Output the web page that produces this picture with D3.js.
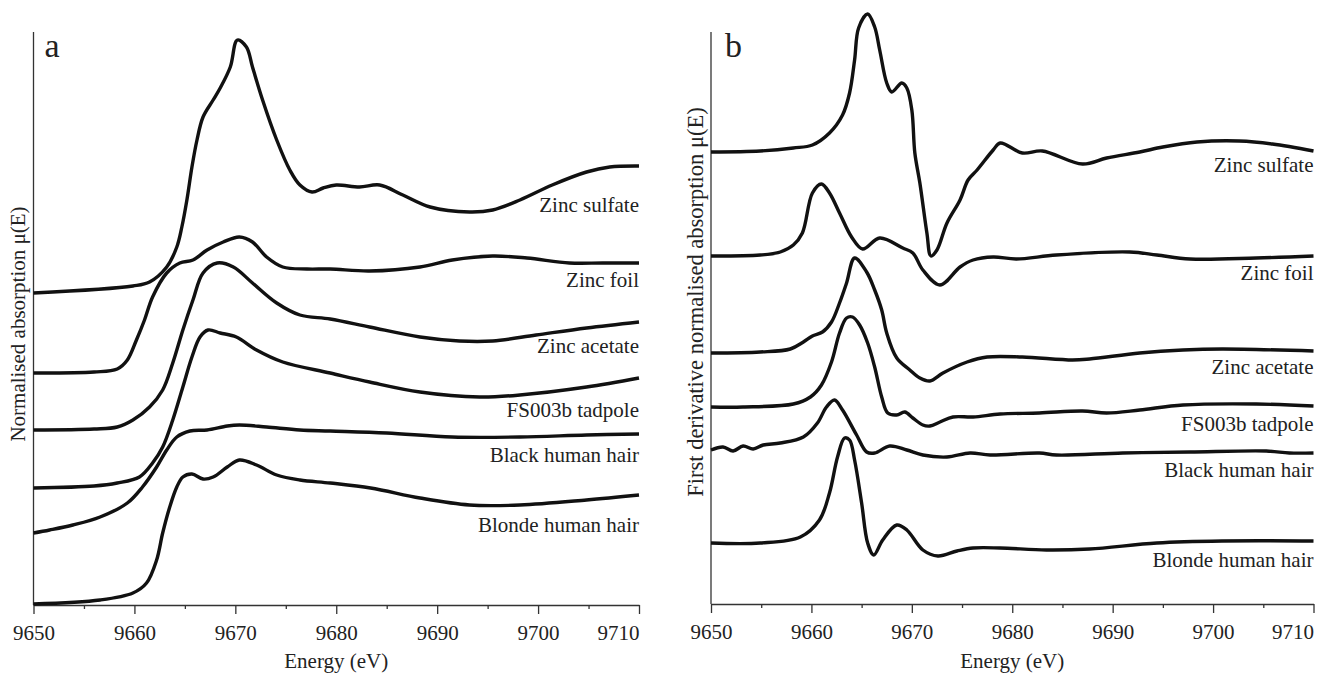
<!DOCTYPE html>
<html>
<head>
<meta charset="utf-8">
<script src="https://cdn.jsdelivr.net/npm/d3@7"></script>
<style>
  body { margin: 0; background: #fff; }
  svg text { font-family: "Liberation Serif", "Times New Roman", serif; fill: #222; }
</style>
</head>
<body>
<svg id="xanes" width="1323" height="676"></svg>
<script>
// energy (eV), offset normalised absorption — panel a
const sulfateA = [[9650,3.12],[9659.85,3.19],[9661.5,3.23],[9663.2,3.38],[9664.2,3.58],[9664.7,3.78],[9665.2,4.05],[9665.7,4.38],[9666.2,4.65],[9666.8,4.88],[9667.8,5.05],[9668.5,5.17],[9669.5,5.38],[9670.2,5.65],[9671.1,5.58],[9671.7,5.38],[9672.7,5.05],[9674.1,4.65],[9675.4,4.35],[9676.4,4.2],[9677.6,4.13],[9678.7,4.17],[9680,4.2],[9682.3,4.18],[9684.3,4.2],[9686.6,4.1],[9689.3,3.98],[9693.2,3.93],[9695.5,3.95],[9698.2,4.05],[9701.4,4.2],[9704.8,4.33],[9707.1,4.38],[9710,4.39]];
const foilA = [[9650,2.32],[9656,2.33],[9658.3,2.36],[9659.3,2.45],[9660.2,2.65],[9661,2.85],[9661.8,3.08],[9663.2,3.32],[9664.5,3.42],[9665.8,3.45],[9667.2,3.55],[9668.8,3.63],[9670.4,3.68],[9671.7,3.63],[9673.1,3.48],[9674.7,3.38],[9677.1,3.36],[9679.4,3.36],[9683.3,3.34],[9688.3,3.38],[9691.5,3.45],[9695.5,3.49],[9698.9,3.47],[9703.1,3.42],[9706.4,3.42],[9710,3.42]];
const acetateA = [[9650,1.75],[9656,1.76],[9658.3,1.78],[9659.85,1.85],[9661.5,1.98],[9662.8,2.15],[9663.8,2.42],[9664.8,2.75],[9665.8,3.05],[9666.8,3.32],[9668.2,3.42],[9669.8,3.38],[9671.7,3.22],[9674.1,3.02],[9676.4,2.9],[9679.4,2.86],[9683.3,2.78],[9688.3,2.68],[9692.2,2.64],[9695.5,2.64],[9699.8,2.7],[9704.8,2.77],[9710,2.83]];
const tadpoleA = [[9650,1.17],[9656,1.19],[9658.3,1.22],[9660.5,1.28],[9661.8,1.42],[9662.8,1.58],[9663.8,1.85],[9664.8,2.18],[9665.7,2.48],[9666.5,2.68],[9667.3,2.75],[9668.5,2.72],[9670.1,2.68],[9672.1,2.55],[9674.7,2.43],[9679.4,2.32],[9683.3,2.23],[9688.3,2.13],[9694.2,2.08],[9698.2,2.1],[9704.8,2.18],[9710,2.27]];
const blackHairA = [[9650,0.72],[9651.6,0.75],[9653.9,0.8],[9656.6,0.88],[9659.3,1.02],[9660.8,1.18],[9662.2,1.38],[9663.2,1.55],[9664.2,1.68],[9665.5,1.74],[9667.2,1.75],[9669.2,1.79],[9670.4,1.8],[9673.1,1.78],[9676.4,1.75],[9679.4,1.74],[9685,1.72],[9691.5,1.68],[9698.2,1.68],[9704.8,1.7],[9710,1.71]];
const blondeHairA = [[9650,0.01],[9656.6,0.05],[9659.85,0.12],[9661.2,0.22],[9662.2,0.45],[9662.8,0.72],[9663.5,0.98],[9664.2,1.18],[9664.8,1.28],[9665.7,1.31],[9666.8,1.26],[9667.8,1.28],[9669.2,1.38],[9670.4,1.45],[9672.1,1.4],[9674.1,1.3],[9676.4,1.25],[9679.4,1.22],[9683.4,1.17],[9688.3,1.07],[9693.2,1.0],[9698.2,1.0],[9704.8,1.05],[9710,1.1]];

// energy (eV), offset first derivative — panel b
const sulfateB = [[9650,4.52],[9654.9,4.53],[9658.2,4.56],[9660.1,4.59],[9661.8,4.71],[9663.1,4.89],[9663.8,5.11],[9664.3,5.44],[9664.7,5.76],[9665.6,5.9],[9666.3,5.77],[9666.8,5.54],[9667.5,5.21],[9668,5.12],[9669,5.21],[9669.5,5.16],[9670,4.94],[9670.3,4.51],[9670.8,4.21],[9671.5,3.71],[9671.9,3.48],[9672.5,3.54],[9673.5,3.81],[9674.8,4.04],[9675.6,4.24],[9676.5,4.34],[9678.1,4.54],[9678.8,4.61],[9681,4.51],[9683,4.53],[9687,4.4],[9689.4,4.46],[9692.7,4.52],[9695,4.57],[9698.4,4.62],[9702.6,4.63],[9705.9,4.6],[9710,4.53]];
const foilB = [[9650,3.48],[9654.9,3.49],[9656.9,3.52],[9658.2,3.59],[9659.1,3.71],[9660.1,4.11],[9661,4.2],[9661.8,4.11],[9662.8,3.91],[9664,3.67],[9665.1,3.55],[9666.8,3.66],[9669.1,3.56],[9670.1,3.51],[9671.1,3.34],[9672.8,3.19],[9674.8,3.37],[9676.1,3.44],[9678.1,3.47],[9680.4,3.45],[9684.4,3.49],[9691.7,3.52],[9694.4,3.49],[9697.7,3.45],[9704.3,3.46],[9710,3.48]];
const acetateB = [[9650,2.51],[9654.9,2.52],[9657.9,2.55],[9659.2,2.62],[9660.1,2.68],[9661.1,2.72],[9662,2.82],[9662.8,3.01],[9663.5,3.21],[9664.3,3.46],[9665.5,3.32],[9666.3,3.14],[9667,2.94],[9667.5,2.71],[9668.5,2.46],[9669.8,2.34],[9670.8,2.26],[9671.8,2.23],[9673.1,2.31],[9675.5,2.42],[9677.5,2.47],[9681,2.47],[9686,2.44],[9687.7,2.45],[9692.7,2.51],[9697,2.54],[9700.9,2.55],[9710,2.53]];
const tadpoleB = [[9650,1.97],[9653.2,1.97],[9658.2,2.0],[9659.9,2.07],[9661,2.19],[9662,2.42],[9662.8,2.71],[9663.5,2.86],[9664.1,2.87],[9664.8,2.79],[9665.6,2.61],[9666.3,2.37],[9667,2.07],[9667.6,1.91],[9668.5,1.89],[9669.3,1.92],[9670.1,1.86],[9671.1,1.79],[9671.8,1.78],[9672.8,1.82],[9674.1,1.87],[9676.1,1.87],[9678.8,1.9],[9682.7,1.91],[9687,1.93],[9689.4,1.91],[9692.7,1.94],[9697,1.99],[9704.3,2.0],[9710,1.98]];
const blackHairB = [[9650,1.54],[9651.2,1.57],[9652.2,1.53],[9653.2,1.58],[9654.2,1.55],[9655.2,1.59],[9656.9,1.61],[9659.2,1.67],[9660.6,1.81],[9661.5,1.97],[9662.3,2.04],[9663.1,1.94],[9664.5,1.69],[9665.5,1.52],[9666.3,1.51],[9667.8,1.58],[9669.5,1.54],[9671.1,1.49],[9673.5,1.47],[9675.8,1.51],[9677.8,1.49],[9682.7,1.51],[9684.4,1.49],[9691,1.51],[9697.7,1.52],[9705.3,1.53],[9707.6,1.51],[9710,1.51]];
const blondeHairB = [[9650,0.61],[9654.9,0.61],[9658.9,0.67],[9660.8,0.84],[9661.8,1.11],[9662.6,1.47],[9663.3,1.66],[9663.8,1.64],[9664.3,1.44],[9665,1.01],[9665.6,0.61],[9666.2,0.49],[9667.1,0.64],[9668.5,0.79],[9669.5,0.74],[9671.1,0.54],[9672.6,0.48],[9674.5,0.53],[9676.1,0.56],[9678.8,0.56],[9683.4,0.54],[9687.7,0.55],[9694.4,0.61],[9700.9,0.63],[9710,0.63]];

const sampleNames = ["Zinc sulfate", "Zinc foil", "Zinc acetate", "FS003b tadpole", "Black human hair", "Blonde human hair"];
const labelLevelA = [3.93, 3.18, 2.52, 1.88, 1.43, 0.73];
const labelLevelB = [4.32, 3.24, 2.30, 1.73, 1.27, 0.37];
const majorTicks = [9650, 9660, 9670, 9680, 9690, 9700, 9710];
const minorTicks = [9655, 9665, 9675, 9685, 9695, 9705];

const svg = d3.select("svg#xanes");

const drawPanel = function (p) {
	const x = d3.scaleLinear([9650, 9710], [p.left, p.right]);
	const y = d3.scaleLinear([0, p.ymax], [p.bottom, p.top]);
	const g = svg.append("g");

	// axes
	g.append("line")
		.attr("x1", p.left).attr("x2", p.left)
		.attr("y1", p.top).attr("y2", p.bottom)
		.attr("stroke", "#333").attr("stroke-width", 1.3);

	const xAxis = g.append("g")
		.attr("transform", `translate(0,${p.bottom})`)
		.call(d3.axisBottom(x).tickValues(majorTicks).tickFormat(d3.format("d"))
			.tickSize(9).tickSizeOuter(0).tickPadding(11));
	xAxis.select(".domain").attr("stroke", "#333").attr("stroke-width", 1.3);
	xAxis.selectAll(".tick line").attr("stroke", "#333").attr("stroke-width", 1.3);
	xAxis.selectAll("text")
		.style("font-family", '"Liberation Serif", serif')
		.style("font-size", "21px").attr("fill", "#222")
		.attr("text-anchor", (d) => (d === 9710 ? "end" : "middle"));

	g.append("g")
		.attr("transform", `translate(0,${p.bottom})`)
		.call(d3.axisBottom(x).tickValues(minorTicks).tickFormat("").tickSize(4).tickSizeOuter(0))
		.call((a) => a.select(".domain").remove())
		.selectAll(".tick line").attr("stroke", "#333").attr("stroke-width", 1.3);

	g.append("text")
		.attr("x", (p.left + p.right) / 2).attr("y", 668)
		.attr("text-anchor", "middle")
		.style("font-size", "21px")
		.text("Energy (eV)");

	g.append("text")
		.attr("transform", `translate(${p.titleX},${p.titleY}) rotate(-90)`)
		.attr("text-anchor", "middle")
		.style("font-size", p.titleSize)
		.text(p.title);

	g.append("text")
		.attr("x", p.left + p.letterDx).attr("y", 57)
		.style("font-size", "34px")
		.text(p.letter);

	const line = d3.line()
		.x((d) => x(d[0]))
		.y((d) => y(d[1]))
		.curve(d3.curveCatmullRom.alpha(0.5));

	g.selectAll("path.spectrum")
		.data(p.series)
		.join("path")
		.attr("class", "spectrum")
		.attr("d", line)
		.attr("fill", "none")
		.attr("stroke", "#111")
		.attr("stroke-width", 3.4)
		.attr("stroke-linejoin", "round");

	g.selectAll("text.name")
		.data(sampleNames)
		.join("text")
		.attr("class", "name")
		.attr("x", p.right)
		.attr("y", (d, i) => y(p.labels[i]))
		.attr("text-anchor", "end")
		.style("font-size", "21px")
		.text((d) => d);
};

drawPanel({
	left: 33.5, right: 639, top: 32, bottom: 605, ymax: 5.73,
	series: [sulfateA, foilA, acetateA, tadpoleA, blackHairA, blondeHairA],
	labels: labelLevelA,
	title: "Normalised absorption \u03bc(E)", titleX: 25, titleY: 324, titleSize: "21px",
	letter: "a", letterDx: 11
});

drawPanel({
	left: 711, right: 1313.5, top: 32, bottom: 604, ymax: 5.72,
	series: [sulfateB, foilB, acetateB, tadpoleB, blackHairB, blondeHairB],
	labels: labelLevelB,
	title: "First derivative normalised absorption \u03bc(E)", titleX: 703, titleY: 302, titleSize: "22.5px",
	letter: "b", letterDx: 14
});
</script>
</body>
</html>
